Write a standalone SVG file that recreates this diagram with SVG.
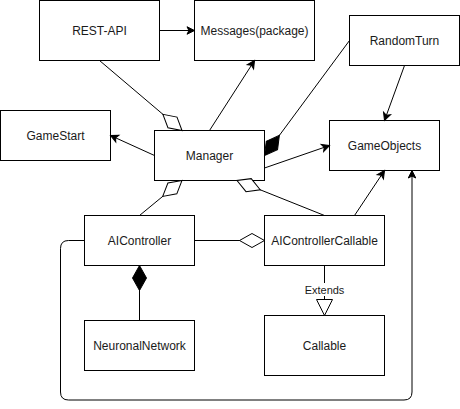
<svg xmlns="http://www.w3.org/2000/svg" width="460" height="409" viewBox="0 0 460 409">
<style>
.box{fill:#fff;stroke:#000;stroke-width:1}
.lbl{font-family:"Liberation Sans",Arial,sans-serif;font-size:12px;fill:#1a1a1a;text-anchor:middle}
.edge{fill:none;stroke:#000;stroke-width:1}
.small{font-family:"Liberation Sans",Arial,sans-serif;font-size:11px;fill:#1a1a1a;text-anchor:middle}
</style>
<defs>
<marker id="arrow" markerUnits="userSpaceOnUse" orient="auto" refX="0" refY="0" markerWidth="10" markerHeight="10" viewBox="-9 -5 10 10" overflow="visible">
<path d="M0,0 L-7.5,-3.75 L-5.6,0 L-7.5,3.75 Z" fill="#000" stroke="#000" stroke-width="1"/>
</marker>
<marker id="odiamond" markerUnits="userSpaceOnUse" orient="auto" refX="0" refY="0" markerWidth="28" markerHeight="18" viewBox="-26 -9 28 18" overflow="visible">
<path d="M0,0 L-12.5,-7 L-25,0 L-12.5,7 Z" fill="#fff" stroke="#000" stroke-width="1"/>
</marker>
<marker id="fdiamond" markerUnits="userSpaceOnUse" orient="auto" refX="0" refY="0" markerWidth="28" markerHeight="18" viewBox="-26 -9 28 18" overflow="visible">
<path d="M0,0 L-12.5,-7 L-25,0 L-12.5,7 Z" fill="#000" stroke="#000" stroke-width="1"/>
</marker>
<marker id="otri" markerUnits="userSpaceOnUse" orient="auto" refX="0" refY="0" markerWidth="20" markerHeight="20" viewBox="-18 -10 20 20" overflow="visible">
<path d="M0,0 L-16,-8 L-16,8 Z" fill="#fff" stroke="#000" stroke-width="1"/>
</marker>
</defs>
<rect width="460" height="409" fill="#fff"/>
<g id="rest-api"><rect class="box" x="39.5" y="0.5" width="120" height="60"/><text class="lbl" x="99.5" y="34.5">REST-API</text></g>
<g id="messages"><rect class="box" x="194.5" y="0.5" width="120" height="60"/><text class="lbl" x="254.5" y="34.5">Messages(package)</text></g>
<g id="randomturn"><rect class="box" x="349.5" y="15.5" width="110" height="50"/><text class="lbl" x="404.5" y="44.5">RandomTurn</text></g>
<g id="gamestart"><rect class="box" x="0.5" y="110.5" width="110" height="50"/><text class="lbl" x="55.5" y="139.5">GameStart</text></g>
<g id="manager"><rect class="box" x="154.5" y="130.5" width="110" height="50"/><text class="lbl" x="209.5" y="159.5">Manager</text></g>
<g id="gameobjects"><rect class="box" x="329.5" y="120.5" width="110" height="50"/><text class="lbl" x="384.5" y="149.5">GameObjects</text></g>
<g id="aicontroller"><rect class="box" x="84.5" y="215.5" width="110" height="50"/><text class="lbl" x="139.5" y="244.5">AIController</text></g>
<g id="aicontrollercallable"><rect class="box" x="264.5" y="215.5" width="120" height="50"/><text class="lbl" x="324.5" y="244.5">AIControllerCallable</text></g>
<g id="neuronalnetwork"><rect class="box" x="84.5" y="320.5" width="110" height="50"/><text class="lbl" x="139.5" y="349.5">NeuronalNetwork</text></g>
<g id="callable"><rect class="box" x="264.5" y="315.5" width="120" height="60"/><text class="lbl" x="324.5" y="349.5">Callable</text></g>
<g id="connectors">
<path class="edge" d="M159.5,30.5 L194.5,30.5" marker-end="url(#arrow)"/>
<path class="edge" d="M99.5,60.5 L182,130.5" marker-end="url(#odiamond)"/>
<path class="edge" d="M209.5,130.5 L254.5,60.5" marker-end="url(#arrow)"/>
<path class="edge" d="M349.5,40.5 L264.5,155.5" marker-end="url(#fdiamond)"/>
<path class="edge" d="M404.5,65.5 L384.5,120.5" marker-end="url(#arrow)"/>
<path class="edge" d="M154.5,155.5 L110.5,135.5" marker-end="url(#arrow)"/>
<path class="edge" d="M264.5,168 L329.5,145.5" marker-end="url(#arrow)"/>
<path class="edge" d="M139.5,215.5 L182,180.5" marker-end="url(#odiamond)"/>
<path class="edge" d="M324.5,215.5 L237,180.5" marker-end="url(#odiamond)"/>
<path class="edge" d="M354.5,215.5 L384.5,170.5" marker-end="url(#arrow)"/>
<path class="edge" d="M194.5,240.5 L264.5,240.5" marker-end="url(#odiamond)"/>
<path class="edge" d="M139.5,320.5 L139.5,265.5" marker-end="url(#fdiamond)"/>
<path class="edge" d="M324.5,265.5 L324.5,315.5" marker-end="url(#otri)"/>
<rect x="305" y="283" width="39" height="13" fill="#fff"/>
<text class="small" x="324.5" y="294">Extends</text>
<path class="edge" d="M84.5,240.5 L68.5,240.5 Q60.5,240.5 60.5,248.5 L60.5,392 Q60.5,400 68.5,400 L404,400 Q412,400 412,392 L412,170.5" marker-end="url(#arrow)"/>
</g>
</svg>
